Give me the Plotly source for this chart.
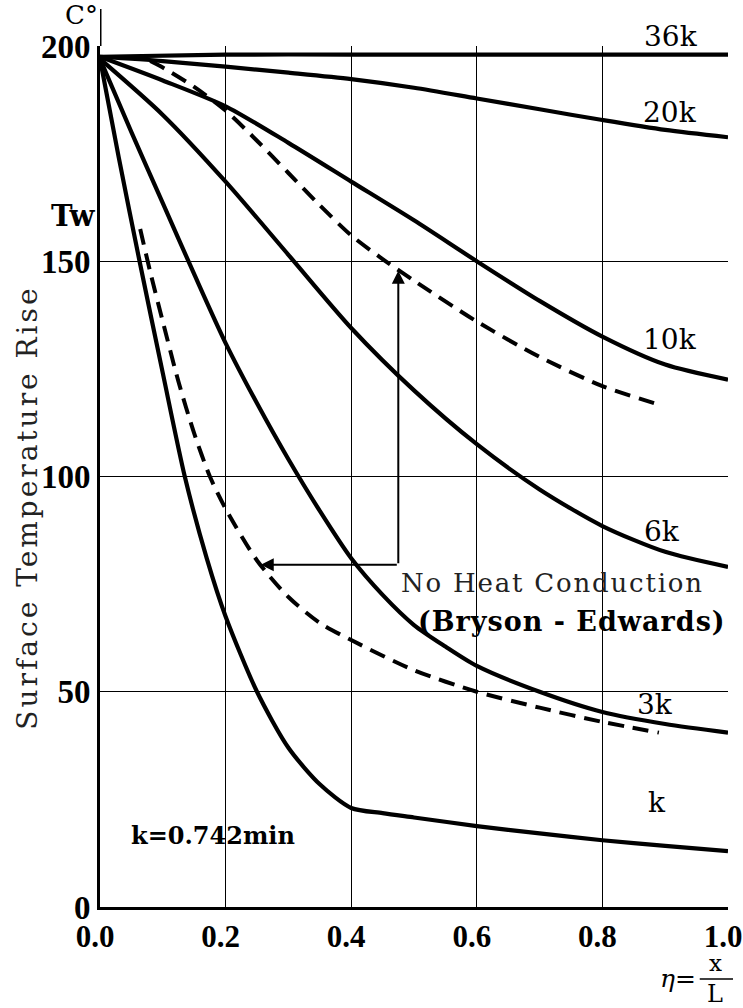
import plotly.graph_objects as go

# ---- data ----
x_36k = [0.0, 0.2, 0.4, 0.6, 0.8, 1.0]
y_36k = [197.5, 198.0, 198.0, 198.0, 198.0, 198.0]

x_20k = [0.0, 0.1, 0.2, 0.3, 0.4, 0.5, 0.6, 0.7, 0.8, 0.9, 1.0]
y_20k = [197.5, 196.5, 195.2, 193.8, 192.3, 190.3, 187.8, 185.3, 182.8, 180.5, 178.8]

x_10k = [0.0, 0.1, 0.2, 0.3, 0.4, 0.5, 0.6, 0.7, 0.8, 0.9, 1.0]
y_10k = [197.5, 192.0, 186.0, 177.5, 168.5, 159.5, 150.0, 140.8, 132.5, 126.0, 122.5]

x_6k = [0.0, 0.1, 0.2, 0.3, 0.4, 0.5, 0.6, 0.7, 0.8, 0.9, 1.0]
y_6k = [197.0, 184.0, 168.5, 151.5, 134.5, 120.0, 107.5, 97.0, 88.5, 82.5, 79.0]

x_3k = [0.0, 0.05, 0.1, 0.15, 0.2, 0.25, 0.3, 0.35, 0.4, 0.45, 0.5, 0.55, 0.6, 0.7, 0.8, 0.9, 1.0]
y_3k = [197.0, 180.0, 163.5, 147.0, 131.0, 117.0, 104.0, 92.0, 81.0, 72.5, 65.5, 60.5, 56.0, 50.0, 45.3, 42.5, 40.5]

x_k = [0.0, 0.03, 0.063, 0.1, 0.135, 0.17, 0.2, 0.25, 0.3, 0.35, 0.4, 0.45, 0.5, 0.6, 0.7, 0.8, 0.9, 1.0]
y_k = [197.0, 174.0, 150.0, 124.0, 100.0, 81.0, 67.5, 50.0, 37.0, 28.5, 23.0, 21.8, 20.8, 18.8, 17.1, 15.5, 14.2, 13.0]

x_nc_upper = [0.08, 0.1, 0.15, 0.2, 0.25, 0.3, 0.35, 0.4, 0.45, 0.5, 0.6, 0.7, 0.8, 0.895]
y_nc_upper = [196.5, 195.0, 190.5, 185.0, 178.0, 170.5, 163.0, 156.0, 150.5, 145.5, 136.0, 127.8, 121.0, 116.5]

x_nc_lower = [0.064, 0.08, 0.1, 0.125, 0.15, 0.175, 0.2, 0.25, 0.3, 0.35, 0.4, 0.5, 0.6, 0.7, 0.8, 0.89]
y_nc_lower = [157.5, 147.5, 136.0, 122.0, 110.0, 100.0, 92.5, 80.5, 72.0, 66.0, 62.0, 55.0, 50.0, 46.3, 43.0, 40.5]

curve_labels = ["20k", "10k", "6k", "3k", "k"]
label_x = [0.908, 0.908, 0.895, 0.884, 0.887]
label_y = [184.6, 131.9, 87.2, 47.0, 24.2]
top_label = "36k"

x_ticks = [0.0, 0.2, 0.4, 0.6, 0.8, 1.0]
x_ticktext = ["0.0", "0.2", "0.4", "0.6", "0.8", "1.0"]
y_ticks = [0, 50, 100, 150, 200]
y_ticktext = ["0", "50", "100", "150", "200"]

# arrow bracket (data coords)
arrow_corner = (0.475, 79.5)
arrow_up_tip = (0.475, 147.8)
arrow_left_tip = (0.256, 79.5)

SERIF = "DejaVu Serif"
TIMES = "Liberation Serif"

fig = go.Figure()

solid = [(x_36k, y_36k), (x_20k, y_20k), (x_10k, y_10k), (x_6k, y_6k), (x_3k, y_3k), (x_k, y_k)]
for xs, ys in solid:
    fig.add_trace(go.Scatter(x=xs, y=ys, mode="lines",
                             line=dict(color="black", width=4.2, shape="spline", smoothing=0.75),
                             showlegend=False, hoverinfo="skip"))

for xs, ys in [(x_nc_upper, y_nc_upper), (x_nc_lower, y_nc_lower)]:
    fig.add_trace(go.Scatter(x=xs, y=ys, mode="lines",
                             line=dict(color="black", width=4, dash="16px,9px",
                                       shape="spline", smoothing=0.75),
                             showlegend=False, hoverinfo="skip"))

annotations = []
for t, lx, ly in zip(curve_labels, label_x, label_y):
    annotations.append(dict(x=lx, y=ly, xref="x", yref="y", text=t, showarrow=False,
                            xanchor="center", yanchor="middle",
                            font=dict(family=SERIF, size=28, color="black")))
# 36k label sits on the top border (paper coords)
annotations.append(dict(x=0.91, y=0.99, xref="paper", yref="paper", text=top_label,
                        showarrow=False, xanchor="center", yanchor="bottom",
                        font=dict(family=SERIF, size=28, color="black")))

# bracket arrows
annotations.append(dict(x=arrow_up_tip[0], y=arrow_up_tip[1], ax=arrow_corner[0], ay=arrow_corner[1],
                        xref="x", yref="y", axref="x", ayref="y", text="", showarrow=True,
                        arrowhead=2, arrowsize=1.3, arrowwidth=2, arrowcolor="black"))
annotations.append(dict(x=arrow_left_tip[0], y=arrow_left_tip[1], ax=arrow_corner[0], ay=arrow_corner[1],
                        xref="x", yref="y", axref="x", ayref="y", text="", showarrow=True,
                        arrowhead=2, arrowsize=1.3, arrowwidth=2, arrowcolor="black"))

annotations.append(dict(x=0.72, y=75.3, xref="x", yref="y",
                        text='<span style="letter-spacing:1.8px">No Heat Conduction</span>',
                        showarrow=False, xanchor="center", yanchor="middle",
                        font=dict(family=SERIF, size=26, color="#222")))
annotations.append(dict(x=0.752, y=66.3, xref="x", yref="y",
                        text='<span style="letter-spacing:1px">(Bryson - Edwards)</span>',
                        showarrow=False, xanchor="center", yanchor="middle",
                        font=dict(family=SERIF, size=27, color="black", weight="bold")))
annotations.append(dict(x=0.18, y=16.7, xref="x", yref="y",
                        text="k=0.742min", showarrow=False, xanchor="center", yanchor="middle",
                        font=dict(family=SERIF, size=24, color="black", weight="bold")))

# axis-side labels (paper coords)
annotations.append(dict(x=0.0, y=1.036, xref="paper", yref="paper", text="C°", showarrow=False,
                        xanchor="right", yanchor="middle",
                        font=dict(family=SERIF, size=26, color="black")))
annotations.append(dict(x=-0.043, y=0.802, xref="paper", yref="paper", text="Tw", showarrow=False,
                        xanchor="center", yanchor="middle",
                        font=dict(family=SERIF, size=29, color="black", weight="bold")))
annotations.append(dict(x=-0.116, y=0.464, xref="paper", yref="paper",
                        text='<span style="letter-spacing:3px">Surface Temperature Rise</span>',
                        showarrow=False, textangle=-90, xanchor="center", yanchor="middle",
                        font=dict(family=SERIF, size=28, color="#222")))
annotations.append(dict(x=0.953, y=-0.083, xref="paper", yref="paper", text="<i>η</i>=",
                        showarrow=False, xanchor="right", yanchor="middle",
                        font=dict(family=SERIF, size=25, color="black")))
annotations.append(dict(x=0.98, y=-0.065, xref="paper", yref="paper", text="x",
                        showarrow=False, xanchor="center", yanchor="middle",
                        font=dict(family=SERIF, size=23, color="black")))
annotations.append(dict(x=0.98, y=-0.101, xref="paper", yref="paper", text="L",
                        showarrow=False, xanchor="center", yanchor="middle",
                        font=dict(family=SERIF, size=24, color="black")))

shapes = [
    dict(type="line", xref="x", yref="paper", x0=0, x1=0, y0=1.0, y1=1.043,
         line=dict(color="black", width=3)),
    dict(type="line", xref="paper", yref="paper", x0=0.955, x1=1.008, y0=-0.0835, y1=-0.0835,
         line=dict(color="black", width=1.5)),
]

fig.update_layout(
    width=743, height=1008,
    margin=dict(l=100, r=15, t=46, b=101),
    paper_bgcolor="white", plot_bgcolor="white",
    annotations=annotations, shapes=shapes,
    xaxis=dict(range=[0, 1], tickvals=x_ticks, ticktext=x_ticktext,
               showgrid=True, gridcolor="black", gridwidth=1.3,
               showline=True, linecolor="black", linewidth=3,
               zeroline=False, ticks="", ticklabeloverflow="allow", automargin=False,
               ticklabelshift=-5,
               tickfont=dict(family=TIMES, size=31, color="black", weight="bold")),
    yaxis=dict(range=[0, 200], tickvals=y_ticks, ticktext=y_ticktext,
               showgrid=True, gridcolor="black", gridwidth=1.3,
               showline=True, linecolor="black", linewidth=3,
               zeroline=False, ticks="", ticklabeloverflow="allow", automargin=False,
               tickfont=dict(family=TIMES, size=33, color="black", weight="bold")),
)

fig.write_html("out.html")
